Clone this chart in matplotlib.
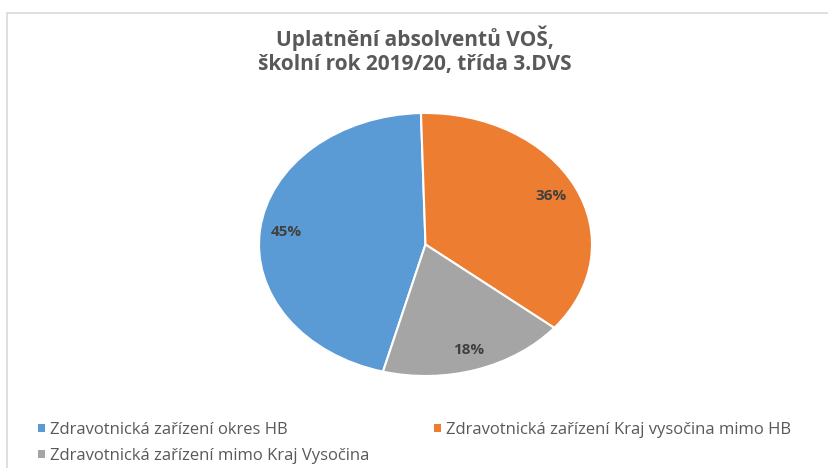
import matplotlib
matplotlib.use("Agg")
import matplotlib.pyplot as plt
from matplotlib.patches import Rectangle, Patch

plt.rcParams['font.family'] = ['Open Sans', 'DejaVu Sans']

TITLE = "Uplatnění absolventů VOŠ,\nškolní rok 2019/20, třída 3.DVS"
categories = ["Zdravotnická zařízení okres HB",
              "Zdravotnická zařízení Kraj vysočina mimo HB",
              "Zdravotnická zařízení mimo Kraj Vysočina"]
counts = [5, 4, 2]
colors = ["#5B9BD5", "#ED7D31", "#A5A5A5"]

fig = plt.figure(figsize=(8.29, 4.68), dpi=100)

# light chart border (left + top, runs off the image)
fig.patches.append(Rectangle((7.5 / 829, -0.1), 1.2, (468 - 12.5) / 468 + 0.1,
                             transform=fig.transFigure, fill=False,
                             edgecolor="#d9d9d9", lw=1.2))

# pie is stretched horizontally in the reference
ax = fig.add_axes([259 / 829, 92 / 468, 333 / 829, 263 / 468])
wedges, _, autotexts = ax.pie(counts, colors=colors, startangle=255.2,
                              counterclock=False, autopct="%1.0f%%",
                              pctdistance=0.84,
                              wedgeprops=dict(edgecolor="white", linewidth=1.5),
                              textprops=dict(color="#404040", fontsize=11,
                                             fontweight="bold"))
ax.set_aspect("auto")
ax.set_xlim(-1, 1)
ax.set_ylim(-1, 1)

fig.text(0.5, (468 - 50) / 468, TITLE, ha="center", va="center",
         fontsize=15, fontweight="bold", color="#595959", linespacing=1.2)

handles = [Patch(facecolor=c, edgecolor="none") for c in colors]
leg_kw = dict(loc="upper left", frameon=False, handlelength=0.4,
              handleheight=0.4, handletextpad=0.35, labelspacing=0.6,
              fontsize=12, labelcolor="#595959", borderaxespad=0,
              borderpad=0)
# left column: first and third entries, right column: second entry
fig.legend([handles[0], handles[2]], [categories[0], categories[2]],
           bbox_to_anchor=(38 / 829, (468 - 422) / 468), **leg_kw)
fig.legend([handles[1]], [categories[1]],
           bbox_to_anchor=(434 / 829, (468 - 422) / 468), **leg_kw)

fig.savefig("out.png", dpi=100)
